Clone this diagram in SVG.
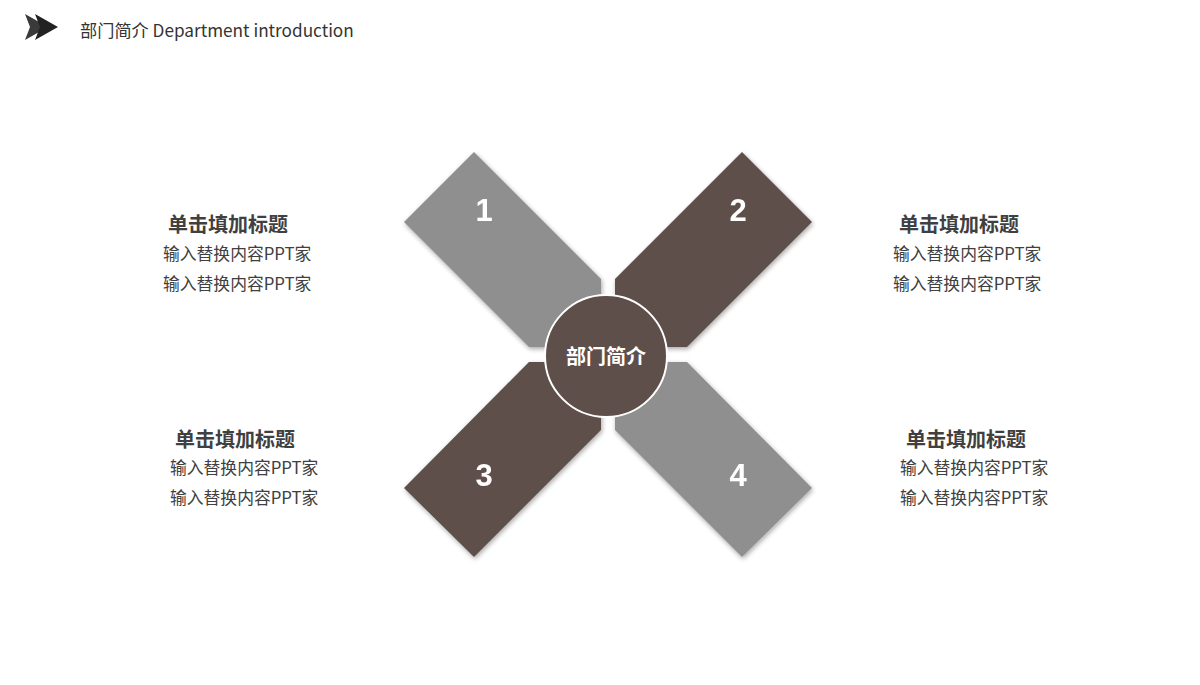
<svg xmlns="http://www.w3.org/2000/svg" width="1200" height="685" viewBox="0 0 1200 685">
<defs>
<filter id="sh" x="-20%" y="-20%" width="140%" height="140%">
<feGaussianBlur in="SourceAlpha" stdDeviation="2.5"/>
<feOffset dx="1" dy="2" result="b"/>
<feComponentTransfer><feFuncA type="linear" slope="0.35"/></feComponentTransfer>
<feMerge><feMergeNode/><feMergeNode in="SourceGraphic"/></feMerge>
</filter>
</defs>
<style>
.gray{fill:#8f8f8f}
.brown{fill:#5f4f4b}
.num{font-family:"Liberation Sans",Arial,sans-serif;font-weight:bold;font-size:31px;fill:#ffffff;text-anchor:middle}
.title{font-family:"Noto Sans CJK SC","Noto Sans",sans-serif;font-weight:bold;font-size:20px;fill:#404040}
.line{font-family:"Noto Sans CJK SC","Noto Sans",sans-serif;font-size:16.8px;fill:#404040}
.head{font-family:"Noto Sans CJK SC","Noto Sans",sans-serif;font-size:17.2px;fill:#333333}
</style>
<rect width="1200" height="685" fill="#ffffff"/>
<g id="header">
<polygon points="25,14 48,27 25,40 30,27" fill="#3a3a3a"/>
<polygon points="35,14 58,27 35,40 40,27" fill="#222222"/>
<text class="head" x="80" y="37">部门简介 Department introduction</text>
</g>
<g id="arm1" filter="url(#sh)">
<polygon class="gray" points="474,152 601,279 601,347 529,347 404,222"/>
<text class="num" x="484" y="221">1</text>
</g>
<g id="arm2" filter="url(#sh)">
<polygon class="brown" points="742,152 812,222 687,347 615,347 615,279"/>
<text class="num" x="738" y="221">2</text>
</g>
<g id="arm3" filter="url(#sh)">
<polygon class="brown" points="601,362 601,430 474,557 404,488 529,362"/>
<text class="num" x="484" y="486">3</text>
</g>
<g id="arm4" filter="url(#sh)">
<polygon class="gray" points="615,362 687,362 812,488 742,557 615,430"/>
<text class="num" x="738" y="486">4</text>
</g>
<g id="center">
<circle cx="606" cy="356" r="61" fill="#5f4f4b" stroke="#ffffff" stroke-width="2"/>
<text x="606" y="364" text-anchor="middle" font-family="'Noto Sans CJK SC','Noto Sans',sans-serif" font-weight="bold" font-size="20" fill="#ffffff">部门简介</text>
</g>
<g id="text1">
<text class="title" x="168" y="232">单击填加标题</text>
<text class="line" x="163" y="260">输入替换内容PPT家</text>
<text class="line" x="163" y="290">输入替换内容PPT家</text>
</g>
<g id="text2">
<text class="title" x="899" y="232">单击填加标题</text>
<text class="line" x="893" y="260">输入替换内容PPT家</text>
<text class="line" x="893" y="290">输入替换内容PPT家</text>
</g>
<g id="text3">
<text class="title" x="175" y="447">单击填加标题</text>
<text class="line" x="170" y="474">输入替换内容PPT家</text>
<text class="line" x="170" y="504">输入替换内容PPT家</text>
</g>
<g id="text4">
<text class="title" x="906" y="447">单击填加标题</text>
<text class="line" x="900" y="474">输入替换内容PPT家</text>
<text class="line" x="900" y="504">输入替换内容PPT家</text>
</g>
</svg>
